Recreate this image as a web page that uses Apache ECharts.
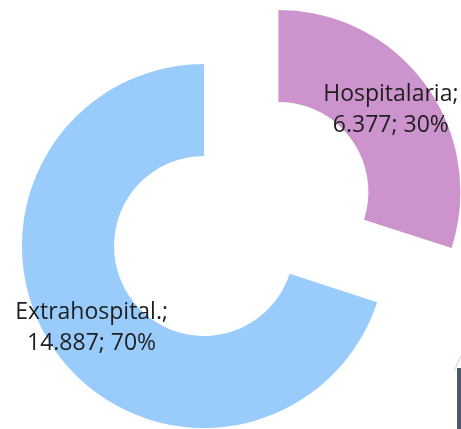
<!DOCTYPE html>
<html>
<head>
<meta charset="utf-8">
<script src="https://cdn.jsdelivr.net/npm/echarts@6/dist/echarts.min.js"></script>
<style>
html,body{margin:0;padding:0;background:#fff;}
#chart{width:461px;height:429px;}
</style>
</head>
<body>
<div id="chart"></div>
<script>
var categories = ['Hospitalaria', 'Extrahospital.'];
var values = [6377, 14887];
var colors = ['#CC93CC', '#99CCFB'];
var explodedIndex = 0;

function fmtNum(v) {
  return String(v).replace(/\B(?=(\d{3})+(?!\d))/g, '.');
}
var total = values.reduce(function (a, b) { return a + b; }, 0);

var chart = echarts.init(document.getElementById('chart'), null, {renderer: 'canvas'});
chart.setOption({
  animation: false,
  backgroundColor: '#ffffff',
  series: [{
    type: 'pie',
    center: [204, 246],
    radius: [90, 182],
    startAngle: 90,
    clockwise: true,
    avoidLabelOverlap: false,
    selectedMode: 'single',
    selectedOffset: 92,
    emphasis: {disabled: true},
    label: {
      show: true,
      position: 'inside',
      color: '#1e1e1e',
      fontFamily: 'Open Sans',
      fontSize: 23,
      lineHeight: 31,
      align: 'center',
      formatter: function (p) {
        var pct = Math.round(p.value / total * 100);
        return p.name + ';\n' + fmtNum(p.value) + '; ' + pct + '%';
      }
    },
    labelLine: {show: false},
    data: categories.map(function (c, i) {
      return {
        name: c,
        value: values[i],
        selected: i === explodedIndex,
        itemStyle: {color: colors[i]}
      };
    })
  }],
  graphic: [{
    type: 'rect',
    shape: {x: 457, y: 368, width: 4, height: 61},
    style: {fill: '#4a5a6e'}
  }, {
    type: 'line',
    shape: {x1: 454, y1: 371, x2: 461, y2: 356},
    style: {stroke: '#c8d4e0', lineWidth: 1}
  }]
});
</script>
</body>
</html>
